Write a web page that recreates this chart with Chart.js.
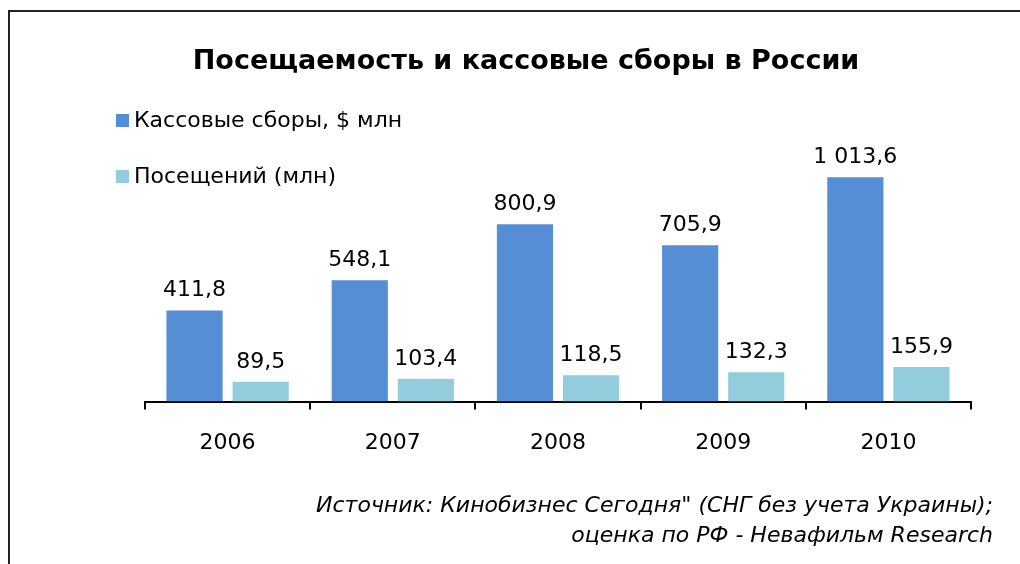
<!DOCTYPE html>
<html lang="ru">
<head>
<meta charset="UTF-8">
<title>Посещаемость и кассовые сборы в России</title>
<script src="https://cdn.jsdelivr.net/npm/chart.js"></script>
<style>
  html, body { margin: 0; padding: 0; background: #fff; }
  body { width: 1020px; height: 564px; position: relative; overflow: hidden; font-family: "DejaVu Sans", Verdana, sans-serif; }
  .frame { position: absolute; left: 8px; top: 10px; width: 1100px; height: 700px; border: 2px solid #222; box-sizing: border-box; }
  .wrap { position: absolute; left: 0; top: 0; width: 1020px; height: 564px; }
  .source { position: absolute; right: 27px; top: 490px; text-align: right; font-style: italic; font-size: 22px; line-height: 30px; color: #000; white-space: nowrap; }
</style>
</head>
<body>
<div class="frame"></div>
<div class="wrap"><canvas id="chart" width="1020" height="564"></canvas></div>
<div class="source">Источник: Кинобизнес Сегодня" (СНГ без учета Украины);<br>оценка по РФ - Невафильм Research</div>
<script>
const years = ['2006', '2007', '2008', '2009', '2010'];
const boxOffice = [411.8, 548.1, 800.9, 705.9, 1013.6];
const attendance = [89.5, 103.4, 118.5, 132.3, 155.9];
const seriesNames = ['Кассовые сборы, $ млн', 'Посещений (млн)'];
const chartTitle = 'Посещаемость и кассовые сборы в России';

const FONT = '"DejaVu Sans", Verdana, sans-serif';

function fmt(v) {
  const parts = v.toFixed(1).split('.');
  return parts[0].replace(/\B(?=(\d{3})+(?!\d))/g, ' ') + ',' + parts[1];
}

// value labels above bars
const valueLabels = {
  id: 'valueLabels',
  afterDatasetsDraw(chart) {
    const ctx = chart.ctx;
    ctx.save();
    ctx.font = '22px ' + FONT;
    ctx.fillStyle = '#000';
    ctx.textAlign = 'center';
    ctx.textBaseline = 'alphabetic';
    chart.data.datasets.forEach((ds, i) => {
      chart.getDatasetMeta(i).data.forEach((bar, j) => {
        ctx.fillText(fmt(ds.data[j]), bar.x, bar.y - 14);
      });
    });
    ctx.restore();
  }
};

// title + vertical legend at top-left
const header = {
  id: 'header',
  afterDraw(chart) {
    const ctx = chart.ctx;
    ctx.save();
    ctx.fillStyle = '#000';
    ctx.font = 'bold 27px ' + FONT;
    ctx.textAlign = 'center';
    ctx.textBaseline = 'middle';
    ctx.fillText(chartTitle, 526, 62);

    ctx.font = '22px ' + FONT;
    ctx.textAlign = 'left';
    chart.data.datasets.forEach((ds, i) => {
      const y = 121 + i * 56;
      ctx.fillStyle = ds.backgroundColor;
      ctx.fillRect(116, y - 7, 13, 13);
      ctx.fillStyle = '#000';
      ctx.fillText(ds.label, 134, y);
    });
    ctx.restore();
  }
};

new Chart(document.getElementById('chart'), {
  type: 'bar',
  data: {
    labels: years,
    datasets: [
      { label: seriesNames[0], data: boxOffice, backgroundColor: '#558ED5', barPercentage: 0.85, categoryPercentage: 0.8 },
      { label: seriesNames[1], data: attendance, backgroundColor: '#93CDDD', barPercentage: 0.85, categoryPercentage: 0.8 }
    ]
  },
  options: {
    responsive: false,
    animation: false,
    layout: { padding: { left: 145, right: 49, top: 136, bottom: 88 } },
    plugins: {
      legend: { display: false },
      tooltip: { enabled: false },
      title: { display: false }
    },
    scales: {
      x: {
        grid: { display: true, offset: true, drawOnChartArea: false, drawTicks: true, tickLength: 8, color: '#000', lineWidth: 2 },
        border: { display: true, color: '#000', width: 2 },
        ticks: { color: '#000', font: { family: FONT, size: 22 }, padding: 20 }
      },
      y: { display: false, min: 0, max: 1200 }
    }
  },
  plugins: [valueLabels, header]
});
</script>
</body>
</html>
